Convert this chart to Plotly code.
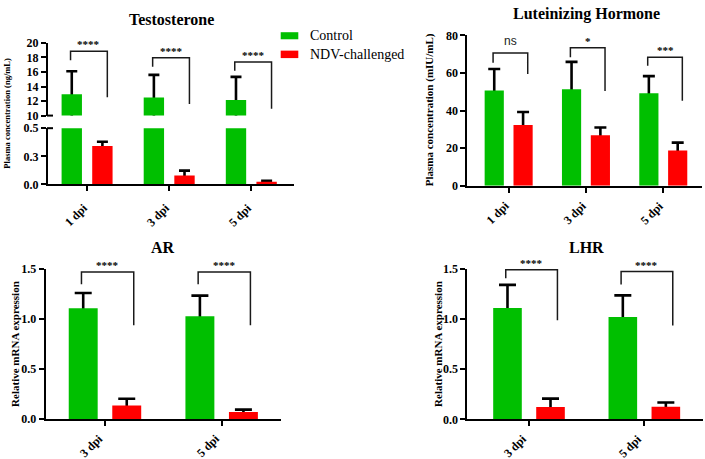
import plotly.graph_objects as go

# ---------------- data ----------------
dpi_three = ["1 dpi", "3 dpi", "5 dpi"]
dpi_two = ["3 dpi", "5 dpi"]

# Testosterone (ng/mL)
t_ctrl = [12.93, 12.49, 12.13]
t_ctrl_sd = [3.17, 3.11, 3.20]
t_ndv = [0.342, 0.080, 0.023]
t_ndv_sd = [0.037, 0.043, 0.009]
t_sig = ["****", "****", "****"]

# Luteinizing hormone (mIU/mL)
lh_ctrl = [50.7, 51.3, 49.2]
lh_ctrl_sd = [11.4, 14.6, 9.1]
lh_ndv = [32.3, 26.8, 18.7]
lh_ndv_sd = [6.9, 4.2, 4.2]
lh_sig = ["ns", "*", "***"]

# AR relative mRNA expression
ar_ctrl = [1.106, 1.026]
ar_ctrl_sd = [0.152, 0.206]
ar_ndv = [0.135, 0.071]
ar_ndv_sd = [0.068, 0.023]
ar_sig = ["****", "****"]

# LHR relative mRNA expression
lhr_ctrl = [1.109, 1.019]
lhr_ctrl_sd = [0.230, 0.216]
lhr_ndv = [0.122, 0.126]
lhr_ndv_sd = [0.084, 0.041]
lhr_sig = ["****", "****"]

series_names = ["Control", "NDV-challenged"]

# ---------------- style / layout constants ----------------
W, H = 705, 459
GREEN = "#00BF00"
RED = "#FF0000"
SERIF = "Liberation Serif, Times New Roman, serif"
TICKFONT = dict(family=SERIF, size=12, color="black", weight="bold")
HALF_SLOT = 0.1865  # half distance between the two bars of a group (category units)


def px(x):
    return x / W


def py(y):
    return 1 - y / H


fig = go.Figure()


def add_panel(xa, ya, ctrl, csd, ndv, nsd, capw):
    x = list(range(len(ctrl)))
    # error bars (drawn first so the visible bars hide their lower half)
    for vals, sd, grp in ((ctrl, csd, "c"), (ndv, nsd, "n")):
        fig.add_trace(go.Bar(
            x=x, y=vals, xaxis=xa, yaxis=ya, offsetgroup=grp,
            marker=dict(color="rgba(0,0,0,0)", line=dict(width=0)),
            error_y=dict(type="data", array=sd, visible=True, color="black",
                         thickness=2.6, width=capw),
            showlegend=False, hoverinfo="skip"))
    for vals, color, grp, name in ((ctrl, GREEN, "c", series_names[0]),
                                   (ndv, RED, "n", series_names[1])):
        fig.add_trace(go.Bar(
            x=x, y=vals, xaxis=xa, yaxis=ya, offsetgroup=grp, name=name,
            marker=dict(color=color, line=dict(width=0)), showlegend=False))


add_panel("x", "y", t_ctrl, t_ctrl_sd, t_ndv, t_ndv_sd, 5.5)
add_panel("x", "y2", t_ctrl, t_ctrl_sd, t_ndv, t_ndv_sd, 5.5)
add_panel("x3", "y3", lh_ctrl, lh_ctrl_sd, lh_ndv, lh_ndv_sd, 6)
add_panel("x4", "y4", ar_ctrl, ar_ctrl_sd, ar_ndv, ar_ndv_sd, 8.5)
add_panel("x5", "y5", lhr_ctrl, lhr_ctrl_sd, lhr_ndv, lhr_ndv_sd, 8.5)


def xaxis(dom_px, rng, labels, anchor):
    return dict(domain=[px(dom_px[0]), px(dom_px[1])], range=rng, anchor=anchor,
                tickmode="array", tickvals=list(range(len(labels))), ticktext=labels,
                showticklabels=False,
                ticks="outside", ticklen=5, tickwidth=2, tickcolor="black",
                showline=True, linecolor="black", linewidth=2, showgrid=False,
                zeroline=False, tickfont=TICKFONT, fixedrange=True)


def yaxis(dom_px, rng, anchor, tickvals, ticktext):
    return dict(domain=[py(dom_px[1]), py(dom_px[0])], range=rng, anchor=anchor,
                tickmode="array", tickvals=tickvals, ticktext=ticktext,
                ticks="outside", ticklen=5, tickwidth=2, tickcolor="black",
                showline=True, linecolor="black", linewidth=2, showgrid=False,
                zeroline=False, tickfont=TICKFONT, fixedrange=True)


t_up_ticks = [10, 12, 14, 16, 18, 20]
t_lo_ticks = [0, 0.25, 0.5]
t_lo_text = ["0.0", "0.3", "0.5"]
lh_ticks = [0, 20, 40, 60, 80]
mrna_ticks = [0, 0.5, 1.0, 1.5]
mrna_text = ["0.0", "0.5", "1.0", "1.5"]

fig.update_layout(
    width=W, height=H, margin=dict(l=0, r=0, t=0, b=0),
    paper_bgcolor="white", plot_bgcolor="white",
    barmode="group", bargap=0.254, bargroupgap=0.335,
    showlegend=False,
    xaxis=xaxis((48, 294), [-0.476, 2.52], dpi_three, "y"),
    yaxis=yaxis((125, 183), [0, 0.5], "x", t_lo_ticks, t_lo_text),
    yaxis2=yaxis((37, 112), [10, 20], "x", t_up_ticks, [str(v) for v in t_up_ticks]),
    xaxis3=xaxis((467.3, 701.7), [-0.535, 2.497], dpi_three, "y3"),
    yaxis3=yaxis((29.3, 184.3), [0, 80], "x3", lh_ticks, [str(v) for v in lh_ticks]),
    xaxis4=xaxis((45.7, 280.7), [-0.508, 1.506], dpi_two, "y4"),
    yaxis4=yaxis((270, 425), [0, 1.5], "x4", mrna_ticks, mrna_text),
    xaxis5=xaxis((467.3, 702.7), [-0.535, 1.506], dpi_two, "y5"),
    yaxis5=yaxis((270, 425.3), [0, 1.5], "x5", mrna_ticks, mrna_text),
)

shapes = []
annotations = []

# rotated category labels: (x axis, labels, baseline px, x shift, y offset)
cat_labels = [("x", dpi_three, 183, 6, 14), ("x3", dpi_three, 184.3, 6, 11),
              ("x4", dpi_two, 425, 3, 10), ("x5", dpi_two, 425.3, 3, 10)]
for xa, labels, base, dx, dy in cat_labels:
    for i, lab in enumerate(labels):
        annotations.append(dict(x=i, xref=xa, y=py(base + dy), yref="paper",
                                text=f"<b>{lab}</b>", showarrow=False, textangle=-45,
                                xanchor="right", yanchor="top", xshift=dx,
                                font=dict(family=SERIF, size=12, color="black")))

# significance brackets: (top, left end, right end) in data units of each panel
brackets = [
    ("x", "y2", t_sig, [(18.84, 17.6, 12.53), (17.96, 16.7, 11.6), (17.37, 16.17, 10.93)]),
    ("x3", "y3", lh_sig, [(70.7, 65.5, 59.4), (73.4, 68.4, 50.4), (68.4, 63.8, 45.2)]),
    ("x4", "y4", ar_sig, [(1.468, 1.345, 0.936), (1.468, 1.345, 0.936)]),
    ("x5", "y5", lhr_sig, [(1.49, 1.406, 0.987), (1.472, 1.342, 0.935)]),
]
for xa, ya, sigs, geo in brackets:
    for i, (sig, (top, yl, yr)) in enumerate(zip(sigs, geo)):
        xl = i - HALF_SLOT - 0.015
        xr = i + HALF_SLOT + 0.06
        shapes.append(dict(type="path", xref=xa, yref=ya,
                           path=f"M {xl},{yl} V {top} H {xr} V {yr}",
                           line=dict(color="#1a1a1a", width=1.5)))
        if sig == "ns":
            font = dict(family="Liberation Sans, Arial, sans-serif", size=12, color="#222")
            ys = 3
            txt = sig
        else:
            font = dict(family=SERIF, size=11, color="black")
            ys = -1
            txt = f"<b>{sig}</b>"
        annotations.append(dict(x=(xl + xr) / 2, y=top, xref=xa, yref=ya, text=txt,
                                showarrow=False, xanchor="center", yanchor="bottom",
                                yshift=ys, font=font))

# axis-break marks on testosterone y axis
for yb in (112, 125):
    shapes.append(dict(type="line", xref="paper", yref="paper",
                       x0=px(47), x1=px(53), y0=py(yb), y1=py(yb),
                       line=dict(color="black", width=2)))

# panel titles
titles = [("Testosterone", 171, 13), ("Luteinizing Hormone", 586, 7.5),
          ("AR", 163.3, 248.5), ("LHR", 586, 248.5)]
for txt, cx, cy in titles:
    annotations.append(dict(x=px(cx), y=py(cy), xref="paper", yref="paper",
                            text=f"<b>{txt}</b>", showarrow=False, xanchor="center",
                            yanchor="middle", font=dict(family=SERIF, size=16, color="black")))

# y-axis titles
ytitles = [("Plasma concentration (ng/mL)", 7, 110, 8.5),
           ("Plasma concentration (mIU/mL)", 429, 106.5, 11),
           ("Relative mRNA expression", 15, 347.5, 11),
           ("Relative mRNA expression", 438, 347.5, 11)]
for txt, cx, cy, fs in ytitles:
    annotations.append(dict(x=px(cx), y=py(cy), xref="paper", yref="paper",
                            text=f"<b>{txt}</b>", showarrow=False, textangle=-90,
                            xanchor="center", yanchor="middle",
                            font=dict(family=SERIF, size=fs, color="black")))

# legend (drawn manually to match the wide swatches)
for (name, color, y0, y1) in ((series_names[0], GREEN, 26, 33.3), (series_names[1], RED, 45, 52.7)):
    shapes.append(dict(type="rect", xref="paper", yref="paper",
                       x0=px(280.7), x1=px(298.3), y0=py(y1), y1=py(y0),
                       fillcolor=color, line=dict(width=0)))
    annotations.append(dict(x=px(308), y=py((y0 + y1) / 2), xref="paper", yref="paper",
                            text=name, showarrow=False, xanchor="left", yanchor="middle",
                            font=dict(family=SERIF, size=14, color="black")))

fig.update_layout(shapes=shapes, annotations=annotations)
fig.write_html("out.html", config={"displayModeBar": False},
               post_script="document.body.style.margin='0';document.body.style.overflow='hidden';")
